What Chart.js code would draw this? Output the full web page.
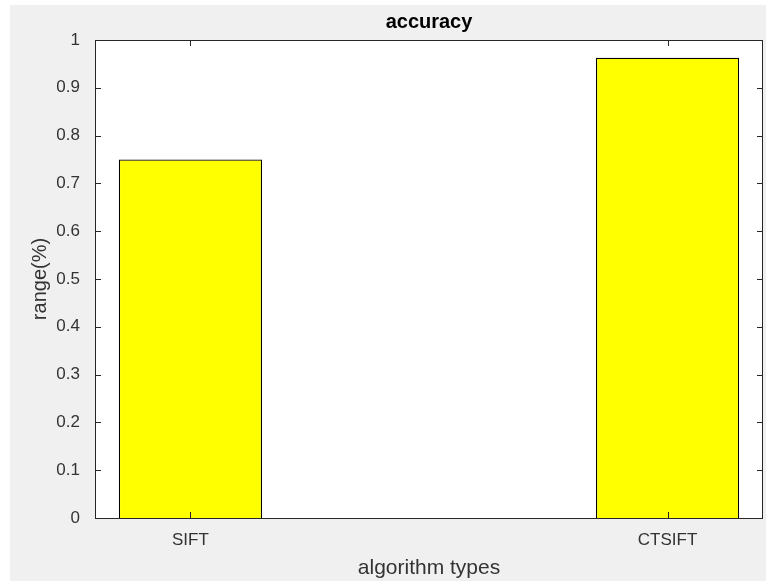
<!DOCTYPE html>
<html>
<head>
<meta charset="utf-8">
<script src="https://cdn.jsdelivr.net/npm/chart.js@4"></script>
<style>
  html, body { margin: 0; padding: 0; background: #ffffff; }
  #wrap { position: absolute; left: 10px; top: 5px; width: 756px; height: 576px; background: #f0f0f0; }
</style>
</head>
<body>
<div id="wrap"><canvas id="chart" width="756" height="576"></canvas></div>
<script>
const categories = ['SIFT', 'CTSIFT'];
const accuracy = [0.75, 0.963];
const yTicks = [0, 0.1, 0.2, 0.3, 0.4, 0.5, 0.6, 0.7, 0.8, 0.9, 1];

const font = "'Liberation Sans', Arial, sans-serif";
const textColor = '#333333';

// matlab style box with inward ticks
const boxPlugin = {
  id: 'box',
  beforeDatasetsDraw(chart) {
    const { ctx, chartArea: a } = chart;
    ctx.save();
    ctx.fillStyle = '#ffffff';
    ctx.fillRect(a.left, a.top, a.right - a.left, a.bottom - a.top);
    ctx.restore();
  },
  afterDatasetsDraw(chart) {
    const { ctx, chartArea: a, scales } = chart;
    const len = 6;
    ctx.save();
    ctx.strokeStyle = '#262626';
    ctx.lineWidth = 1;
    ctx.beginPath();
    yTicks.forEach(v => {
      const y = Math.round(scales.y.getPixelForValue(v)) + 0.5;
      ctx.moveTo(a.left, y); ctx.lineTo(a.left + len, y);
      ctx.moveTo(a.right, y); ctx.lineTo(a.right - len, y);
    });
    categories.forEach((c, i) => {
      const x = Math.round(scales.x.getPixelForValue(i + 1)) + 0.5;
      ctx.moveTo(x, a.bottom); ctx.lineTo(x, a.bottom - len);
      ctx.moveTo(x, a.top); ctx.lineTo(x, a.top + len);
    });
    ctx.stroke();
    ctx.beginPath();
    ctx.rect(Math.round(a.left) + 0.5, Math.round(a.top) + 0.5,
      Math.round(a.right - a.left) - 1, Math.round(a.bottom - a.top));
    ctx.stroke();
    ctx.restore();
  }
};

new Chart(document.getElementById('chart'), {
  type: 'bar',
  data: {
    datasets: [{
      data: accuracy.map((v, i) => ({ x: i + 1, y: v })),
      backgroundColor: '#ffff00',
      borderColor: '#000000',
      borderWidth: 1.2,
      categoryPercentage: 1,
      barPercentage: 0.3
    }]
  },
  options: {
    responsive: false,
    animation: false,
    layout: { padding: { right: 3 } },
    plugins: {
      legend: { display: false },
      tooltip: { enabled: false },
      title: {
        display: true,
        fullSize: false,
        text: 'accuracy',
        color: '#000000',
        font: { family: font, size: 20, weight: 'bold' },
        padding: { top: 5, bottom: 6 }
      }
    },
    scales: {
      x: {
        type: 'linear',
        min: 0.8,
        max: 2.2,
        offset: false,
        grid: { display: false, drawTicks: false, offset: false },
        border: { display: false },
        afterBuildTicks: s => { s.ticks = categories.map((c, i) => ({ value: i + 1 })); },
        afterFit: s => { s.height = 63; },
        ticks: {
          padding: 12,
          color: textColor,
          font: { family: font, size: 17 },
          callback: v => categories[v - 1]
        },
        title: {
          display: true,
          text: 'algorithm types',
          color: textColor,
          font: { family: font, size: 21 },
          padding: { top: 0, bottom: 0 }
        }
      },
      y: {
        min: 0,
        max: 1,
        grid: { display: false, drawTicks: false },
        border: { display: false },
        afterBuildTicks: s => { s.ticks = yTicks.map(v => ({ value: v })); },
        afterFit: s => { s.width = 85; },
        ticks: {
          padding: 15,
          color: textColor,
          font: { family: font, size: 17 },
          callback: v => String(v)
        },
        title: {
          display: true,
          text: 'range(%)',
          color: textColor,
          font: { family: font, size: 20 },
          padding: { top: 18, bottom: 0 }
        }
      }
    }
  },
  plugins: [boxPlugin]
});
</script>
</body>
</html>
